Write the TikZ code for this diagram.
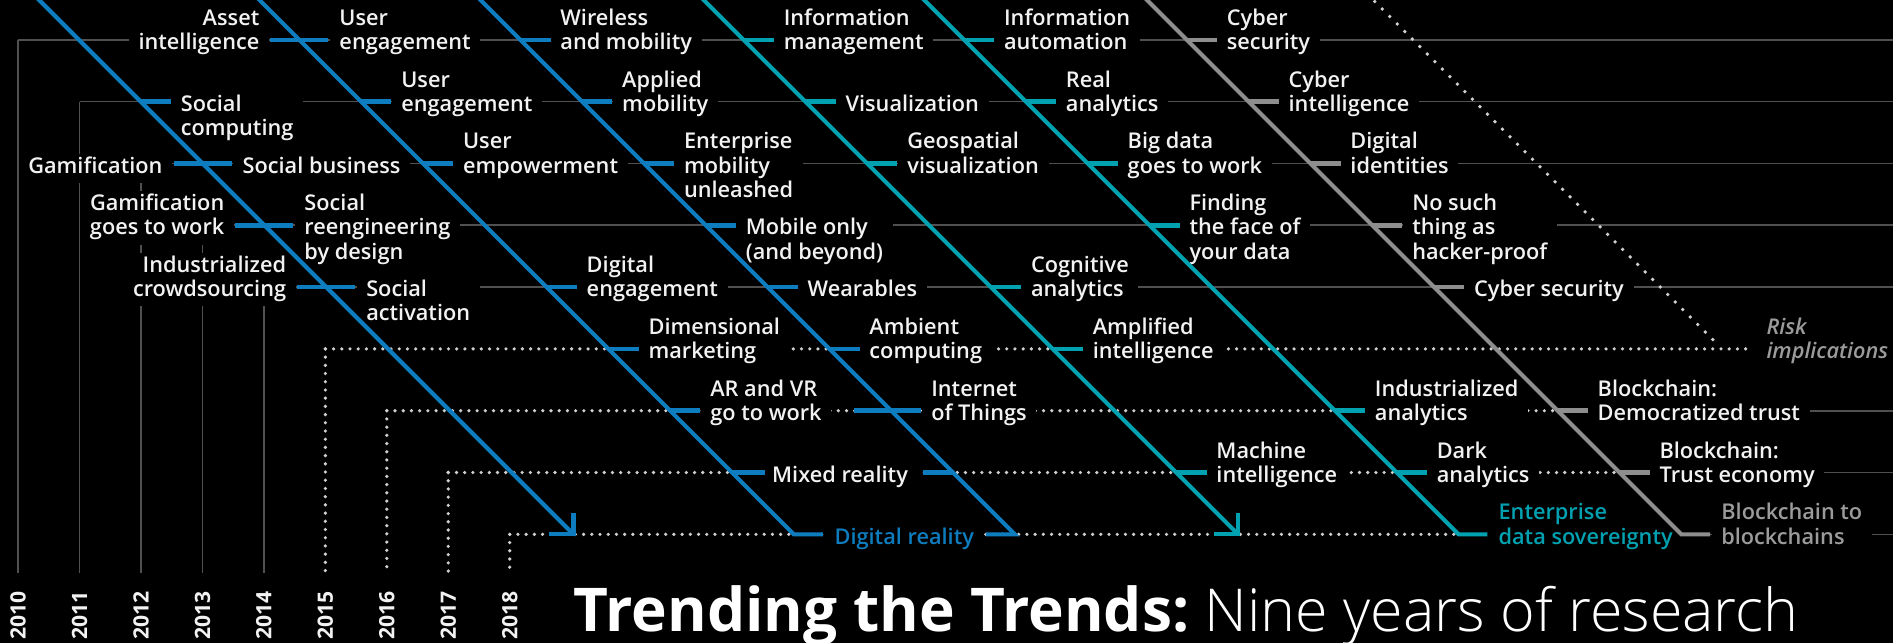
\documentclass[tikz,border=0pt]{standalone}
\usepackage{fontspec}
\newfontfamily\osans{Open Sans}
\IfFontExistsTF{Open Sans Semibold}{\newfontfamily\semifont{Open Sans Semibold}}{%
  \IfFontExistsTF{Open Sans SemiBold}{\newfontfamily\semifont{Open Sans SemiBold}}{%
    \newfontfamily\semifont{Open Sans}[FakeBold=1.2]}}
\IfFontExistsTF{Open Sans Semibold Italic}{\newfontfamily\semiitfont{Open Sans Semibold Italic}}{%
  \newfontfamily\semiitfont{Open Sans}[FakeBold=1.2,FakeSlant=0.2]}
\IfFontExistsTF{Open Sans Light}{\newfontfamily\lightfont{Open Sans Light}}{%
  \newfontfamily\lightfont{Open Sans}}
\definecolor{dblue}{HTML}{0E7DBF}
\definecolor{dteal}{HTML}{00A1B0}
\definecolor{dgray}{HTML}{8E8E8E}
\definecolor{gline}{HTML}{505050}
\definecolor{dotc}{HTML}{CFCFCF}
\definecolor{txt}{HTML}{F2F2F2}
\definecolor{gtxt}{HTML}{9B9B9B}
\newcommand{\labL}[1]{\begin{tabular}{@{}l@{}}#1\end{tabular}}
\newcommand{\labR}[1]{\begin{tabular}{@{}r@{}}#1\end{tabular}}
\newcommand{\rightlab}[5]{\node[rl] (#1) at ({#2+#3+25},{#3+#4}) {\labL{#5}};}
\newcommand{\leftlab}[5]{\node[ll] (#1) at ({#2+#3-25},{#3+#4}) {\labR{#5}};}
\newcommand{\stub}[5]{\draw[stubline,#1] ({#2+#3-#4},#3) -- ({#2+#3+#5},#3);}
\tikzset{
  lab/.style={text=txt, fill=black, inner xsep=8pt, inner ysep=2pt,
    font=\semifont\fontsize{18}{20}\selectfont},
  rl/.style={lab, anchor=west},
  ll/.style={lab, anchor=east},
  gridline/.style={gline, line width=1.3pt},
  dotline/.style={dotc, line width=3pt, line cap=round, dash pattern=on 0pt off 6.8pt},
  diagline/.style={line width=3.4pt, line join=miter},
  stubline/.style={line width=3.7pt},
  yearlab/.style={text=txt, rotate=90, inner sep=0pt, font=\osans\bfseries\fontsize{17.5}{20}\selectfont},
}
\begin{document}
\begin{tikzpicture}[x=1pt,y=-1pt]
\fill[black] (0,0) rectangle (1568,533);
\useasboundingbox (0,0) rectangle (1568,533);
% vertical year lines
\draw[gridline] (15,33) -- (15,475);
\draw[gridline] (65.9,84.2) -- (65.9,475);
\draw[gridline] (116.8,135.4) -- (116.8,475);
\draw[gridline] (167.7,186.6) -- (167.7,475);
\draw[gridline] (218.6,237.8) -- (218.6,475);
\draw[dotline] (269.5,289) -- (269.5,475);
\draw[dotline] (320.4,340.2) -- (320.4,475);
\draw[dotline] (371.3,391.4) -- (371.3,475);
\draw[dotline] (422.2,442.6) -- (422.2,475);
% horizontal rows
\draw[gridline] (15,33) -- (1568,33);
\draw[gridline] (65.9,84.2) -- (1568,84.2);
\draw[gridline] (116.8,135.4) -- (1568,135.4);
\draw[gridline] (167.7,186.6) -- (1568,186.6);
\draw[gridline] (218.6,237.8) -- (1568,237.8);
\draw[dotline] (269.5,289) -- (1452,289);
\draw[dotline] (320.4,340.2) -- (1290.2,340.2);
\draw[gridline] (1290.2,340.2) -- (1568,340.2);
\draw[dotline] (371.3,391.4) -- (1341.4,391.4);
\draw[gridline] (1341.4,391.4) -- (1568,391.4);
\draw[dotline] (422.2,442.6) -- (1208.1,442.6);
\draw[gridline] (1392.6,442.6) -- (1568,442.6);
% risk diagonal (dotted)
\coordinate (d7top) at (1132.5,-5);
\coordinate (d7end) at (1419.5,282);
\draw[dotc, line width=3.2pt, line cap=round, dash pattern=on 0pt off 8.8pt] (d7top) -- (d7end);
% ---- labels ----
% 2010
\leftlab{asset}{215}{33}{-6}{Asset\\intelligence}
\rightlab{usereng}{215}{33}{-6}{User\\engagement}
\rightlab{wireless}{398}{33}{-6}{Wireless\\and mobility}
\rightlab{infomgmt}{583}{33}{-6}{Information\\management}
\rightlab{infoauto}{765.5}{33}{-6}{Information\\automation}
\rightlab{cybersecA}{950}{33}{-6}{Cyber\\security}
% 2011
\rightlab{socialcomp}{32.4}{84.2}{14}{Social\\computing}
\rightlab{userengB}{215}{84.2}{-6}{User\\engagement}
\rightlab{applmob}{398}{84.2}{-6}{Applied\\mobility}
\rightlab{visual}{583}{84.2}{4}{Visualization}
\rightlab{realan}{765.5}{84.2}{-6}{Real\\analytics}
\rightlab{cyberint}{950}{84.2}{-6}{Cyber\\intelligence}
% 2012
\leftlab{gamif}{32.4}{135.4}{4}{Gamification}
\rightlab{socbus}{32.4}{135.4}{4}{Social business}
\rightlab{userempow}{215}{135.4}{-6}{User\\empowerment}
\rightlab{entmob}{398}{135.4}{4}{Enterprise\\mobility\\unleashed}
\rightlab{geovis}{583}{135.4}{-6}{Geospatial\\visualization}
\rightlab{bigdata}{765.5}{135.4}{-6}{Big data\\goes to work}
\rightlab{digid}{950}{135.4}{-6}{Digital\\identities}
% 2013
\leftlab{gamifwork}{32.4}{186.6}{-6}{Gamification\\goes to work}
\rightlab{socreeng}{32.4}{186.6}{4}{Social\\reengineering\\by design}
\rightlab{mobonly}{398}{186.6}{14}{Mobile only\\(and beyond)}
\rightlab{findface}{765.5}{186.6}{4}{Finding\\the face of\\your data}
\rightlab{nosuch}{950}{186.6}{4}{No such\\thing as\\hacker-proof}
% 2014
\leftlab{indcrowd}{32.4}{237.8}{-6}{Industrialized\\crowdsourcing}
\rightlab{socact}{32.4}{237.8}{14}{Social\\activation}
\rightlab{digeng}{215}{237.8}{-6}{Digital\\engagement}
\rightlab{wear}{398}{237.8}{4}{Wearables}
\rightlab{cogan}{583}{237.8}{-6}{Cognitive\\analytics}
\rightlab{cybersecB}{950}{237.8}{4}{Cyber security}
% 2015
\rightlab{dimmark}{215}{289}{-6}{Dimensional\\marketing}
\rightlab{ambient}{398}{289}{-6}{Ambient\\computing}
\rightlab{amplint}{583}{289}{-6}{Amplified\\intelligence}
\node[lab, anchor=west, text=gtxt, font=\semiitfont\fontsize{18}{20}\selectfont] (risk) at (1455,283) {\labL{Risk\\implications}};
% 2016
\rightlab{arvr}{215}{340.2}{-6}{AR and VR\\go to work}
\rightlab{iot}{398}{340.2}{-6}{Internet\\of Things}
\rightlab{indan}{765.5}{340.2}{-6}{Industrialized\\analytics}
\rightlab{bcdem}{950}{340.2}{-6}{Blockchain:\\Democratized trust}
% 2017
\rightlab{mixed}{215}{391.4}{4}{Mixed reality}
\rightlab{machint}{583}{391.4}{-6}{Machine\\intelligence}
\rightlab{darkan}{765.5}{391.4}{-6}{Dark\\analytics}
\rightlab{bctrust}{950}{391.4}{-6}{Blockchain:\\Trust economy}
% 2018
\node[lab, text=dblue] (digreal) at (749,446.6) {\labL{Digital reality}};
\rightlab{entdata}{765.5}{442.6}{-6}{\textcolor{dteal}{Enterprise}\\\textcolor{dteal}{data sovereignty}}
\rightlab{bcbc}{950}{442.6}{-6}{\textcolor{gtxt}{Blockchain to}\\\textcolor{gtxt}{blockchains}}
% ---- diagonals ----
\coordinate (d1top) at (27.4,-5);   \coordinate (d1tip) at (475,442.6);
\coordinate (d2top) at (210,-5);    \coordinate (d2end) at (657.6,442.6);
\coordinate (d3top) at (393,-5);    \coordinate (d3end) at (840.6,442.6);
\coordinate (d4top) at (578,-5);    \coordinate (d4tip) at (1025.6,442.6);
\coordinate (d5top) at (760.5,-5);  \coordinate (d5end) at (1208.1,442.6);
\coordinate (d6top) at (945,-5);    \coordinate (d6end) at (1392.6,442.6);
\draw[diagline, dblue] (d1top) -- (d1tip);
\draw[diagline, dblue] ([xshift=-20pt]d1tip) -- (d1tip) -- ([yshift=18pt]d1tip);
\draw[diagline, dblue] (d2top) -- (d2end) -- ([xshift=24pt]d2end);
\draw[diagline, dblue] (d3top) -- (d3end) -- ([xshift=-24pt]d3end);
\draw[diagline, dteal] (d4top) -- (d4tip);
\draw[diagline, dteal] ([xshift=-20pt]d4tip) -- (d4tip) -- ([yshift=18pt]d4tip);
\draw[diagline, dteal] (d5top) -- (d5end) -- ([xshift=24pt]d5end);
\draw[diagline, dgray] (d6top) -- (d6end) -- ([xshift=24pt]d6end);
% ---- stubs ----
% 2010
\stub{dblue}{215}{33}{24}{24}
\stub{dblue}{398}{33}{0}{25}
\stub{dteal}{583}{33}{0}{25}
\stub{dteal}{765.5}{33}{0}{25}
\stub{dgray}{950}{33}{0}{25}
% 2011
\stub{dblue}{32.4}{84.2}{0}{25}
\stub{dblue}{215}{84.2}{0}{25}
\stub{dblue}{398}{84.2}{0}{25}
\stub{dteal}{583}{84.2}{0}{25}
\stub{dteal}{765.5}{84.2}{0}{25}
\stub{dgray}{950}{84.2}{0}{25}
% 2012
\stub{dblue}{32.4}{135.4}{24}{24}
\stub{dblue}{215}{135.4}{0}{25}
\stub{dblue}{398}{135.4}{0}{25}
\stub{dteal}{583}{135.4}{0}{25}
\stub{dteal}{765.5}{135.4}{0}{25}
\stub{dgray}{950}{135.4}{0}{25}
% 2013
\stub{dblue}{32.4}{186.6}{24}{24}
\stub{dblue}{398}{186.6}{0}{25}
\stub{dteal}{765.5}{186.6}{0}{25}
\stub{dgray}{950}{186.6}{0}{25}
% 2014
\stub{dblue}{32.4}{237.8}{24}{24}
\stub{dblue}{215}{237.8}{0}{25}
\stub{dblue}{398}{237.8}{0}{25}
\stub{dteal}{583}{237.8}{0}{25}
\stub{dgray}{950}{237.8}{0}{25}
% 2015
\stub{dblue}{215}{289}{0}{25}
\stub{dblue}{398}{289}{0}{25}
\stub{dteal}{583}{289}{0}{25}
% 2016
\stub{dblue}{215}{340.2}{0}{25}
\stub{dblue}{398}{340.2}{31}{25}
\stub{dteal}{765.5}{340.2}{0}{25}
\stub{dgray}{950}{340.2}{0}{25}
% 2017
\stub{dblue}{215}{391.4}{0}{27}
\stub{dblue}{398}{391.4}{25}{0}
\stub{dteal}{583}{391.4}{0}{25}
\stub{dteal}{765.5}{391.4}{0}{25}
\stub{dgray}{950}{391.4}{0}{25}
% ---- years ----
\node[yearlab] (y2010) at (15,510) {2010};
\node[yearlab] (y2011) at (65.9,510) {2011};
\node[yearlab] (y2012) at (116.8,510) {2012};
\node[yearlab] (y2013) at (167.7,510) {2013};
\node[yearlab] (y2014) at (218.6,510) {2014};
\node[yearlab] (y2015) at (269.5,510) {2015};
\node[yearlab] (y2016) at (320.4,510) {2016};
\node[yearlab] (y2017) at (371.3,510) {2017};
\node[yearlab] (y2018) at (422.2,510) {2018};
% ---- title ----
\node[anchor=base west, inner sep=0pt, text=white] (title) at (475,523)
  {{\osans\bfseries\fontsize{50}{55}\selectfont Trending the Trends:}{\lightfont\fontsize{49}{55}\selectfont\ Nine years of research}};
\end{tikzpicture}
\end{document}
